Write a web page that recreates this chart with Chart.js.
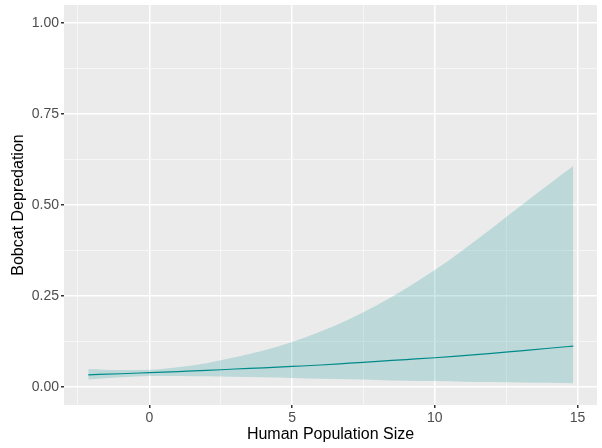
<!DOCTYPE html>
<html>
<head>
<meta charset="utf-8">
<script src="https://cdn.jsdelivr.net/npm/chart.js@4.4.1/dist/chart.umd.min.js"></script>
<style>
  html, body { margin: 0; padding: 0; background: #FFFFFF; }
  #wrap { width: 602px; height: 448px; }
</style>
</head>
<body>
<div id="wrap"><canvas id="c" width="602" height="448"></canvas></div>
<script>
// Human population size (x) and predicted bobcat depredation probability
const popSize   = [-2.14, -1, 0, 1, 2, 3, 4, 5, 6, 7, 8, 9, 10, 11, 12, 13, 14, 14.85];
const fitValues = [0.033, 0.036, 0.039, 0.042, 0.045, 0.049, 0.052, 0.056, 0.060, 0.065, 0.070, 0.075, 0.080, 0.086, 0.092, 0.099, 0.106, 0.112];
const upperCI   = [0.049, 0.046, 0.047, 0.054, 0.065, 0.081, 0.100, 0.123, 0.152, 0.186, 0.226, 0.271, 0.321, 0.377, 0.436, 0.497, 0.557, 0.607];
const lowerCI   = [0.020, 0.026, 0.030, 0.030, 0.029, 0.028, 0.026, 0.024, 0.022, 0.021, 0.019, 0.017, 0.016, 0.014, 0.013, 0.012, 0.011, 0.010];

const xMajorTicks = [0, 5, 10, 15];
const xMinorTicks = [-2.5, 2.5, 7.5, 12.5];
const yMajorTicks = [0, 0.25, 0.5, 0.75, 1];
const yMinorTicks = [0.125, 0.375, 0.625, 0.875];

const xTitle = 'Human Population Size';
const yTitle = 'Bobcat Depredation';

const toPts = (ys) => popSize.map((x, i) => ({ x: x, y: ys[i] }));

const panelBg = {
  id: 'panelBg',
  beforeDraw(chart) {
    const { ctx, chartArea: a } = chart;
    ctx.save();
    ctx.fillStyle = '#EBEBEB';
    ctx.fillRect(a.left, a.top, a.right - a.left, a.bottom - a.top);
    ctx.restore();
  }
};

const tickFont = { family: "'Liberation Sans', Arial, sans-serif", size: 14 };
const titleFont = { family: "'Liberation Sans', Arial, sans-serif", size: 16 };

function gridStyle(majors) {
  return {
    color: (c) => majors.includes(c.tick && c.tick.value) ? '#FFFFFF' : '#F6F6F6',
    lineWidth: (c) => majors.includes(c.tick && c.tick.value) ? 1.5 : 1,
    tickColor: (c) => majors.includes(c.tick && c.tick.value) ? '#333333' : 'rgba(0,0,0,0)',
    tickLength: 3,
    drawTicks: true
  };
}

new Chart(document.getElementById('c'), {
  type: 'line',
  data: {
    datasets: [
      { label: 'lower', data: toPts(lowerCI), borderWidth: 0, pointRadius: 0, fill: false, cubicInterpolationMode: 'monotone', borderColor: 'rgba(0,0,0,0)' },
      { label: 'upper', data: toPts(upperCI), borderWidth: 0, pointRadius: 0, fill: '-1', backgroundColor: 'rgba(0,139,139,0.2)', cubicInterpolationMode: 'monotone', borderColor: 'rgba(0,0,0,0)' },
      { label: 'fit', data: toPts(fitValues), borderWidth: 1.2, pointRadius: 0, fill: false, borderColor: '#008B8B', cubicInterpolationMode: 'monotone' }
    ]
  },
  options: {
    responsive: false,
    animation: false,
    layout: { padding: { left: 0, right: 5, top: 5, bottom: 0 } },
    plugins: { legend: { display: false }, tooltip: { enabled: false } },
    scales: {
      x: {
        type: 'linear', min: -2.99, max: 15.68,
        afterBuildTicks: (s) => { s.ticks = xMinorTicks.concat(xMajorTicks).sort((a, b) => a - b).map(v => ({ value: v })); },
        afterFit: (s) => { s.height = 43; s.paddingLeft = 0; s.paddingRight = 0; },
        ticks: { autoSkip: false, maxRotation: 0, color: '#4D4D4D', font: tickFont, padding: 2,
                 callback: (v) => xMajorTicks.includes(v) ? String(v) : '' },
        grid: gridStyle(xMajorTicks),
        border: { display: false },
        title: { display: true, text: xTitle, color: '#000000', font: titleFont, padding: { top: 0, bottom: 4 } }
      },
      y: {
        type: 'linear', min: -0.05, max: 1.05,
        afterBuildTicks: (s) => { s.ticks = yMinorTicks.concat(yMajorTicks).sort((a, b) => a - b).map(v => ({ value: v })); },
        afterFit: (s) => { s.width = 64; s.paddingTop = 0; s.paddingBottom = 0; },
        ticks: { autoSkip: false, color: '#4D4D4D', font: tickFont, padding: 2,
                 callback: (v) => yMajorTicks.includes(v) ? v.toFixed(2) : '' },
        grid: gridStyle(yMajorTicks),
        border: { display: false },
        title: { display: true, text: yTitle, color: '#000000', font: titleFont, padding: { top: 9, bottom: 0 } }
      }
    }
  },
  plugins: [panelBg]
});
</script>
</body>
</html>
